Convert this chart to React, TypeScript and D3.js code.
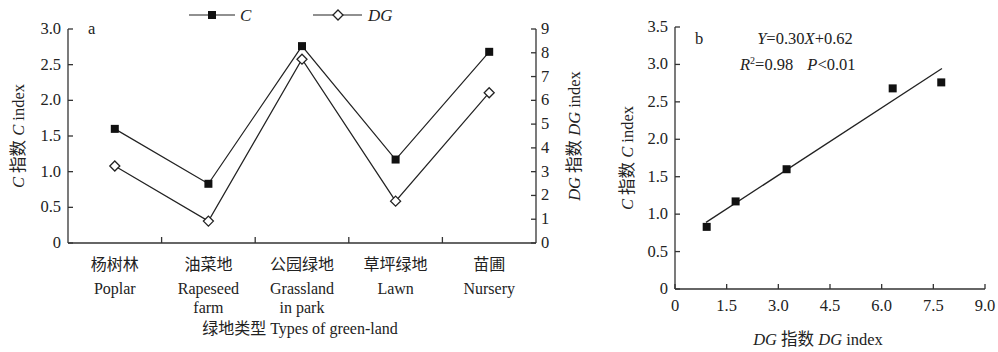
import React from "react";
import * as d3 from "d3";

const width = 998;
const height = 352;

// green-land types
const categoriesCn = ["杨树林", "油菜地", "公园绿地", "草坪绿地", "苗圃"];
const categoriesEn = [["Poplar"], ["Rapeseed", "farm"], ["Grassland", "in park"], ["Lawn"], ["Nursery"]];
const cValues = [1.6, 0.83, 2.76, 1.17, 2.68];
const dgValues = [3.24, 0.92, 7.73, 1.76, 6.32];

const cTicks = [0, 0.5, 1.0, 1.5, 2.0, 2.5, 3.0];
const dgTicks = [0, 1, 2, 3, 4, 5, 6, 7, 8, 9];
const bYTicks = [0, 0.5, 1.0, 1.5, 2.0, 2.5, 3.0, 3.5];
const bXTicks = [0, 1.5, 3.0, 4.5, 6.0, 7.5, 9.0];
const slope = 0.3;
const intercept = 0.62;

const font = "Liberation Serif, Times New Roman, Noto Sans CJK SC, serif";
const fmt = (v: number) => (v === 0 ? "0" : v.toFixed(1));

function PanelA() {
  const x = d3.scaleBand().domain(categoriesCn).range([68, 536]);
  const yC = d3.scaleLinear().domain([0, 3]).range([243, 29]);
  const yDG = d3.scaleLinear().domain([0, 9]).range([243, 29]);
  const cx = (i: number) => x(categoriesCn[i])! + x.bandwidth() / 2;
  const lineC = d3.line<number>().x((_, i) => cx(i)).y(d => yC(d));
  const lineDG = d3.line<number>().x((_, i) => cx(i)).y(d => yDG(d));
  const diamond = (px: number, py: number, r: number) =>
    `M${px},${py - r}L${px + r},${py}L${px},${py + r}L${px - r},${py}Z`;

  return (
    <g style={{ fontFamily: font }} fill="#222">
      {/* axes frame */}
      <line x1={68} x2={536} y1={243} y2={243} stroke="#333" strokeWidth={1.3} />
      <line x1={68} x2={68} y1={29} y2={243} stroke="#333" strokeWidth={1.3} />
      <line x1={536} x2={536} y1={29} y2={243} stroke="#333" strokeWidth={1.3} />

      {cTicks.map(t => (
        <g key={"c" + t}>
          <line x1={68} x2={73} y1={yC(t)} y2={yC(t)} stroke="#333" strokeWidth={1.3} />
          <text x={61} y={yC(t) + 5} textAnchor="end" fontSize={16.5}>{fmt(t)}</text>
        </g>
      ))}
      {dgTicks.map(t => (
        <g key={"d" + t}>
          <line x1={531} x2={536} y1={yDG(t)} y2={yDG(t)} stroke="#333" strokeWidth={1.3} />
          <text x={541} y={yDG(t) + 5} fontSize={16.5}>{t}</text>
        </g>
      ))}
      {categoriesCn.slice(1).map(c => (
        <line key={c} x1={x(c)} x2={x(c)} y1={243} y2={237} stroke="#333" strokeWidth={1.3} />
      ))}

      {categoriesCn.map((c, i) => (
        <g key={"lbl" + c}>
          <text x={cx(i)} y={270} textAnchor="middle" fontSize={16}>{c}</text>
          {categoriesEn[i].map((s, j) => (
            <text key={s} x={cx(i)} y={294 + j * 19} textAnchor="middle" fontSize={16}>{s}</text>
          ))}
        </g>
      ))}
      <text x={300} y={334} textAnchor="middle" fontSize={16}>绿地类型 Types of green-land</text>

      <text transform="translate(24,136) rotate(-90)" textAnchor="middle" fontSize={16.5}>
        <tspan fontStyle="italic">C</tspan> 指数 <tspan fontStyle="italic">C</tspan> index
      </text>
      <text transform="translate(580,136) rotate(-90)" textAnchor="middle" fontSize={16.5}>
        <tspan fontStyle="italic">DG</tspan> 指数 <tspan fontStyle="italic">DG</tspan> index
      </text>
      <text x={88} y={34} fontSize={16.5}>a</text>

      {/* series */}
      <path d={lineC(cValues)!} fill="none" stroke="#222" strokeWidth={1.2} />
      <path d={lineDG(dgValues)!} fill="none" stroke="#222" strokeWidth={1.2} />
      {cValues.map((v, i) => (
        <rect key={"cm" + i} x={cx(i) - 4} y={yC(v) - 4} width={8} height={8} fill="#111" />
      ))}
      {dgValues.map((v, i) => (
        <path key={"dm" + i} d={diamond(cx(i), yDG(v), 5)} fill="#fff" stroke="#222" strokeWidth={1.3} />
      ))}

      {/* legend */}
      <line x1={189} x2={235} y1={15} y2={15} stroke="#222" strokeWidth={1.2} />
      <rect x={208} y={11} width={8} height={8} fill="#111" />
      <text x={240} y={21} fontSize={17} fontStyle="italic">C</text>
      <line x1={313} x2={362} y1={15} y2={15} stroke="#222" strokeWidth={1.2} />
      <path d={diamond(338, 15, 5)} fill="#fff" stroke="#222" strokeWidth={1.3} />
      <text x={368} y={21} fontSize={17} fontStyle="italic">DG</text>
    </g>
  );
}

function PanelB() {
  const x = d3.scaleLinear().domain([0, 9]).range([675, 985]);
  const y = d3.scaleLinear().domain([0, 3.5]).range([289, 27]);
  const [x0, x1] = d3.extent(dgValues) as [number, number];
  const fit = d3.line<number>().x(d => x(d)).y(d => y(slope * d + intercept));

  return (
    <g style={{ fontFamily: font }} fill="#222">
      <line x1={675} x2={985} y1={289} y2={289} stroke="#333" strokeWidth={1.3} />
      <line x1={675} x2={675} y1={27} y2={289} stroke="#333" strokeWidth={1.3} />
      {bYTicks.map(t => (
        <g key={"y" + t}>
          <line x1={675} x2={680} y1={y(t)} y2={y(t)} stroke="#333" strokeWidth={1.3} />
          <text x={668} y={y(t) + 5} textAnchor="end" fontSize={16.5}>{fmt(t)}</text>
        </g>
      ))}
      {bXTicks.map(t => (
        <g key={"x" + t}>
          <line x1={x(t)} x2={x(t)} y1={289} y2={284} stroke="#333" strokeWidth={1.3} />
          <text x={x(t)} y={311} textAnchor="middle" fontSize={16.5}>{fmt(t)}</text>
        </g>
      ))}
      <text transform="translate(633,158) rotate(-90)" textAnchor="middle" fontSize={16.5}>
        <tspan fontStyle="italic">C</tspan> 指数 <tspan fontStyle="italic">C</tspan> index
      </text>
      <text x={818} y={345} textAnchor="middle" fontSize={16.5}>
        <tspan fontStyle="italic">DG</tspan> 指数 <tspan fontStyle="italic">DG</tspan> index
      </text>
      <text x={695} y={44} fontSize={16.5}>b</text>
      <text x={805} y={44} textAnchor="middle" fontSize={16.5}>
        <tspan fontStyle="italic">Y</tspan>=0.30<tspan fontStyle="italic">X</tspan>+0.62
      </text>
      <text x={740} y={70} fontSize={16.5}>
        <tspan fontStyle="italic">R</tspan><tspan fontSize={10} dy={-6}>2</tspan>
        <tspan dy={6}>=0.98</tspan><tspan fontStyle="italic" dx={14}>P</tspan>&lt;0.01
      </text>

      <path d={fit([x0 - 0.02, x1 + 0.02])!} fill="none" stroke="#222" strokeWidth={1.3} />
      {dgValues.map((d, i) => (
        <rect key={i} x={x(d) - 4} y={y(cValues[i]) - 4} width={8} height={8} fill="#111" />
      ))}
    </g>
  );
}

export default function App() {
  return (
    <svg
      width={width}
      height={height}
      style={{ position: "absolute", left: 0, top: 0, background: "#fff" }}
    >
      <rect width={width} height={height} fill="#fff" />
      <PanelA />
      <PanelB />
    </svg>
  );
}
